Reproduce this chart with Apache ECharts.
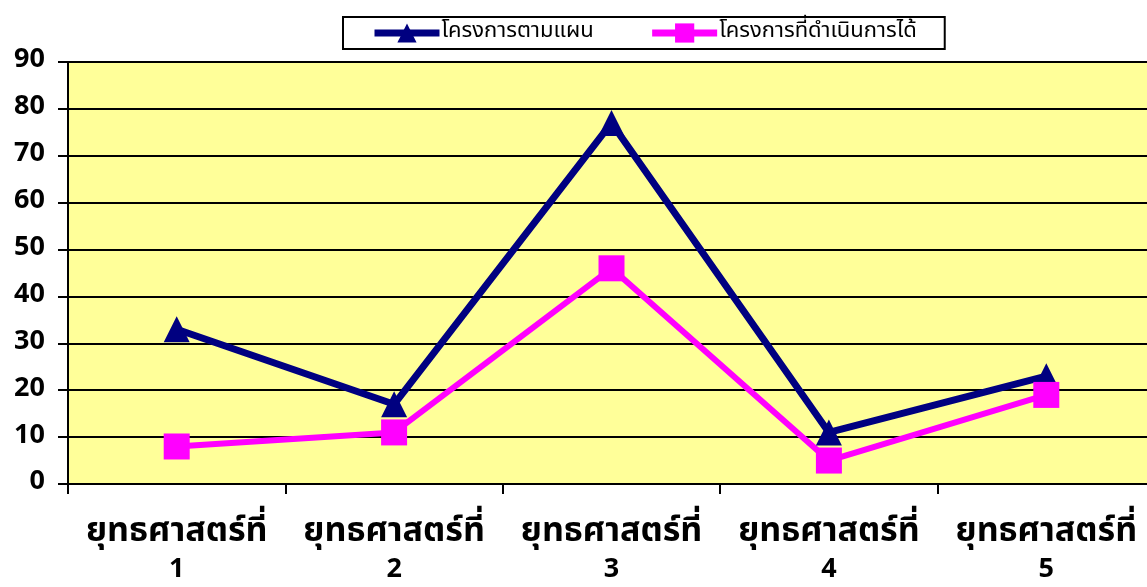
<!DOCTYPE html>
<html>
<head>
<meta charset="utf-8">
<script src="https://cdn.jsdelivr.net/npm/echarts@6/dist/echarts.min.js"></script>
<style>
html,body{margin:0;padding:0;background:#fff;}
#c{width:1147px;height:587px;}
</style>
</head>
<body>
<div id="c"></div>
<script>
const categories = ['ยุทธศาสตร์ที่\n1','ยุทธศาสตร์ที่\n2','ยุทธศาสตร์ที่\n3','ยุทธศาสตร์ที่\n4','ยุทธศาสตร์ที่\n5'];
const seriesNames = ['โครงการตามแผน','โครงการที่ดำเนินการได้'];
const planned = [33, 17, 77, 11, 23];
const done = [8, 11, 46, 5, 19];
const yTicks = {min: 0, max: 90, interval: 10};

const FONT = "'Noto Sans Thai','Noto Sans','DejaVu Sans',sans-serif";
const chart = echarts.init(document.getElementById('c'));
chart.setOption({
  animation: false,
  textStyle: {fontFamily: FONT},
  legend: {
    data: seriesNames,
    top: 17,
    left: 343,
    backgroundColor: '#fff',
    borderColor: '#000',
    borderWidth: 2,
    padding: [5, 28, 5, 28],
    itemGap: 55,
    itemWidth: 65,
    itemHeight: 24,
    lineStyle: {width: 7},
    textStyle: {fontSize: 22, color: '#000', fontFamily: FONT, padding: [0,0,0,-3]}
  },
  grid: {left: 68, top: 62, bottom: 103, width: 1087, show: true, backgroundColor: '#FFFF99', borderWidth: 0, outerBoundsMode: 'none', containLabel: false},
  xAxis: {
    type: 'category',
    data: categories,
    boundaryGap: true,
    axisLine: {lineStyle: {color: '#000', width: 2}},
    axisTick: {show: true, length: 10, lineStyle: {color: '#000', width: 2}},
    axisLabel: {
      color: '#000', margin: 32, fontFamily: FONT,
      formatter: function (v) { const p = v.split('\n'); return '{a|' + p[0] + '}\n{b|' + p[1] + '}'; },
      rich: {
        a: {fontSize: 34, fontWeight: 'bold', lineHeight: 37, fontFamily: FONT, color: '#000'},
        b: {fontSize: 27, fontWeight: 'bold', lineHeight: 37, fontFamily: FONT, color: '#000'}
      }
    }
  },
  yAxis: {
    type: 'value',
    min: yTicks.min, max: yTicks.max, interval: yTicks.interval,
    axisLine: {show: true, lineStyle: {color: '#000', width: 2}},
    axisTick: {show: true, length: 10, lineStyle: {color: '#000', width: 2}},
    axisLabel: {fontSize: 27, fontWeight: 'bold', color: '#000', margin: 23, fontFamily: FONT},
    splitLine: {show: true, lineStyle: {color: '#000', width: 2}}
  },
  series: [
    {
      name: seriesNames[0], type: 'line', data: planned,
      symbol: 'triangle', symbolSize: [26, 26],
      lineStyle: {color: '#000080', width: 7},
      itemStyle: {color: '#000080'}
    },
    {
      name: seriesNames[1], type: 'line', data: done,
      symbol: 'rect', symbolSize: [26, 26],
      lineStyle: {color: '#FF00FF', width: 6},
      itemStyle: {color: '#FF00FF'}
    }
  ]
});
</script>
</body>
</html>
